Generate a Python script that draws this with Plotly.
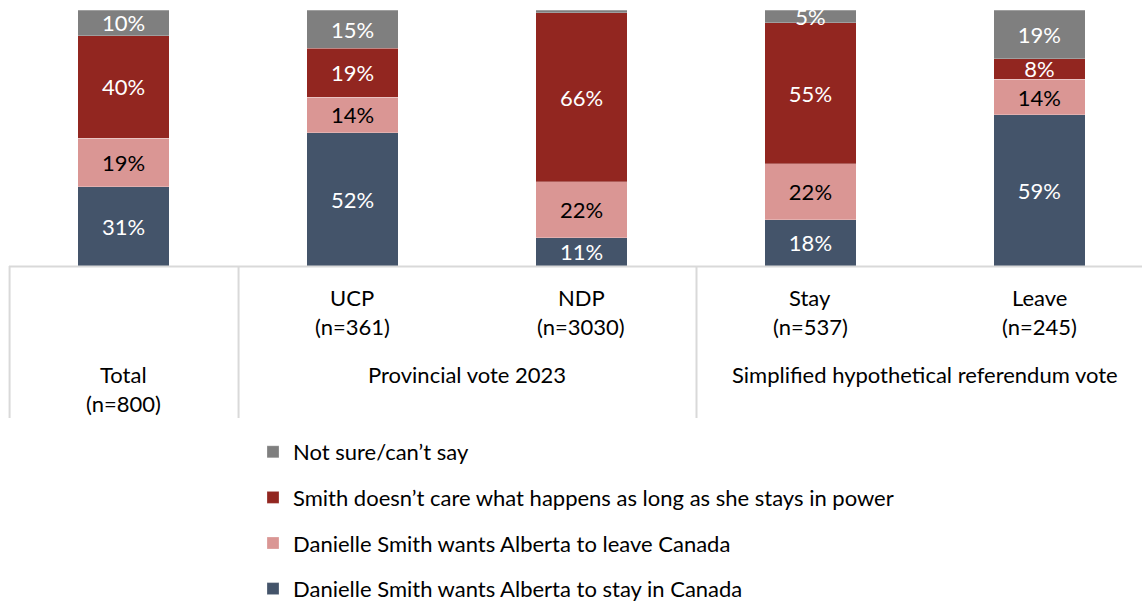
import plotly.graph_objects as go

categories = ["Total", "UCP", "NDP", "Stay", "Leave"]
n_labels = ["(n=800)", "(n=361)", "(n=3030)", "(n=537)", "(n=245)"]
groups = [("Provincial vote 2023", 1.5), ("Simplified hypothetical referendum vote", 3.5)]

series_names = [
    "Danielle Smith wants Alberta to stay in Canada",
    "Danielle Smith wants Alberta to leave Canada",
    "Smith doesn\u2019t care what happens as long as she stays in power",
    "Not sure/can\u2019t say",
]
stay_vals = [31, 52, 11, 18, 59]
leave_vals = [19, 14, 22, 22, 14]
nocare_vals = [40, 19, 66, 55, 8]
notsure_vals = [10, 15, 1, 5, 19]
values = [stay_vals, leave_vals, nocare_vals, notsure_vals]

colors = ["#44546A", "#DA9694", "#922620", "#7F7F7F"]
text_colors = ["white", "black", "white", "white"]

FONT = "Lato"
FS = 22

fig = go.Figure()
for i, (name, vals) in enumerate(zip(series_names, values)):
    texts = [f"{v}%" if v >= 3 else "" for v in vals]
    fig.add_trace(go.Bar(
        x=list(range(len(categories))), y=vals, name=name,
        marker=dict(color=colors[i], line=dict(color="rgba(255,255,255,0.5)", width=0.5)),
        text=texts, texttemplate="%{text}", textposition="inside",
        insidetextanchor="middle", constraintext="none", cliponaxis=True,
        textfont=dict(color=text_colors[i], size=FS, family=FONT),
        width=0.4, legendgroup=f"g{i}", legendrank=len(series_names) - i, hoverinfo="skip",
    ))

x_range = [-0.5, 4.448]
PLOT_L = 9
PLOT_W = 1142 - PLOT_L
def xpaper(v):
    return (v - x_range[0]) / (x_range[1] - x_range[0])

FIG_H = 601
PLOT_H = 256
def ypaper(py):
    return (266 - py) / PLOT_H

shapes = [dict(type="line", xref="paper", yref="paper", x0=0, x1=1, y0=-0.002, y1=-0.002,
               line=dict(color="#D9D9D9", width=2))]
for bx in [-0.5, 0.5, 2.5]:
    shapes.append(dict(type="line", xref="paper", yref="paper", x0=xpaper(bx) + 0.0005, x1=xpaper(bx) + 0.0005,
                       y0=0, y1=ypaper(418), line=dict(color="#D9D9D9", width=2)))

annotations = []
for i, (c, n) in enumerate(zip(categories, n_labels)):
    if i == 0:
        y1, y2 = 374, 403
    else:
        y1, y2 = 297, 326
    annotations.append(dict(x=i, y=ypaper(y1), xref="x", yref="paper", text=c, showarrow=False,
                            font=dict(size=FS, family=FONT, color="black"), yanchor="middle"))
    annotations.append(dict(x=i, y=ypaper(y2), xref="x", yref="paper", text=n, showarrow=False,
                            font=dict(size=FS, family=FONT, color="black"), yanchor="middle"))
for g, gx in groups:
    annotations.append(dict(x=gx, y=ypaper(374), xref="x", yref="paper", text=g, showarrow=False,
                            font=dict(size=FS, family=FONT, color="black"), yanchor="middle"))

fig.update_layout(
    barmode="stack",
    width=1142, height=FIG_H,
    margin=dict(l=PLOT_L, r=0, t=10, b=FIG_H - 266, autoexpand=False),
    paper_bgcolor="white", plot_bgcolor="white",
    font=dict(family=FONT, size=FS, color="black"),
    xaxis=dict(range=x_range, showticklabels=False, showgrid=False, zeroline=False, showline=False, ticks=""),
    yaxis=dict(range=[0, 100], visible=False, showgrid=False, zeroline=False),
    showlegend=True,
    legend=dict(orientation="v", x=(253 - PLOT_L) / PLOT_W, xanchor="left", y=ypaper(431), yanchor="top",
                traceorder="grouped", tracegroupgap=14, font=dict(size=FS, family=FONT, color="black"),
                itemclick=False, itemdoubleclick=False),
    shapes=shapes,
    annotations=annotations,
)

fig.write_html("out.html")
